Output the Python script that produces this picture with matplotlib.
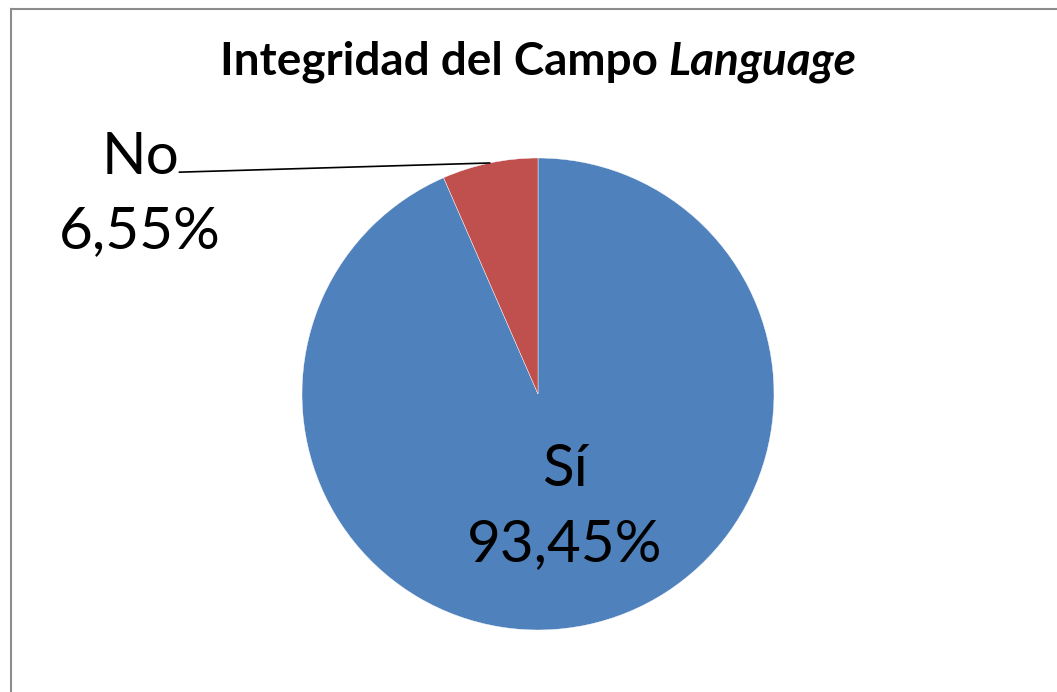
import numpy as np
import matplotlib.pyplot as plt
from matplotlib.lines import Line2D

plt.rcParams['font.family'] = ['Lato', 'DejaVu Sans']

# datos
etiquetas = ['Sí', 'No']
valores = [93.45, 6.55]
colores = ['#4F81BD', '#C0504D']
titulo = 'Integridad del Campo '
titulo_it = 'Language'

W, H = 1057, 692
fig = plt.figure(figsize=(W / 100, H / 100), dpi=100)

# marco del gráfico (solo arriba e izquierda visibles)
fig.add_artist(Line2D([11 / W, 11 / W], [0, 1 - 9 / H], transform=fig.transFigure,
                      color='#8c8c8c', lw=1.5))
fig.add_artist(Line2D([11 / W, 1], [1 - 9 / H, 1 - 9 / H], transform=fig.transFigure,
                      color='#8c8c8c', lw=1.5))

cx, cy, r = 538, 394, 236
ax = fig.add_axes([(cx - r) / W, (H - cy - r) / H, 2 * r / W, 2 * r / H])
wedges, _ = ax.pie(valores, colors=colores, startangle=90, counterclock=False,
                   radius=1, wedgeprops=dict(edgecolor='white', linewidth=0.3))
ax.set_xlim(-1, 1)
ax.set_ylim(-1, 1)
ax.set_aspect('equal')
ax.axis('off')

# título en dos partes (la segunda en cursiva)
t1 = fig.text(0, 1 - 62 / H, titulo, ha='left', va='center', fontsize=33, fontweight='bold')
t2 = fig.text(0, 1 - 62 / H, titulo_it, ha='left', va='center', fontsize=33,
              fontweight='bold', style='italic')
rend = fig.canvas.get_renderer()
w1 = t1.get_window_extent(rend).width
w2 = t2.get_window_extent(rend).width
x0 = cx - (w1 + w2) / 2
t1.set_x(x0 / W)
t2.set_x((x0 + w1) / W)

# etiqueta Sí (dentro)
ax.text(0.114, -0.32, etiquetas[0], ha='center', va='center', fontsize=42)
ax.text(0.114, -0.64, f'{valores[0]:.2f}%'.replace('.', ','), ha='center', va='center', fontsize=42)

# etiqueta No (fuera, con línea guía)
w = wedges[1]
ang = np.deg2rad((w.theta1 + w.theta2) / 2)
ax.annotate('', xy=(np.cos(ang), np.sin(ang)), xytext=(-1.52, 0.94),
            arrowprops=dict(arrowstyle='-', color='black', lw=1.2, shrinkA=0, shrinkB=0))
ax.text(-1.686, 1.0, etiquetas[1], ha='center', va='center', fontsize=42, clip_on=False)
ax.text(-1.686, 0.69, f'{valores[1]:.2f}%'.replace('.', ','), ha='center', va='center',
        fontsize=42, clip_on=False)

fig.savefig('out.png', dpi=100)
